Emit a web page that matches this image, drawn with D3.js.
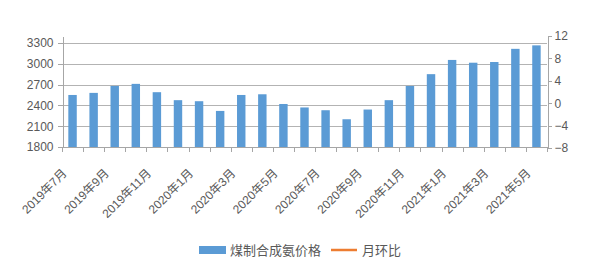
<!DOCTYPE html>
<html lang="zh">
<head>
<meta charset="utf-8">
<script src="https://d3js.org/d3.v7.min.js"></script>
<style>
body { margin: 0; background: #fff; }
text { font-family: "Liberation Sans", "Noto Sans CJK SC", sans-serif; fill: #595959; }
.grid line { stroke: #b3b3b3; stroke-width: 1; }
.axis path, .axis line { stroke: #a6a6a6; fill: none; shape-rendering: crispEdges; }
</style>
</head>
<body>
<div id="chart"></div>
<script>
// months on the category axis
var months = ["2019年7月","2019年8月","2019年9月","2019年10月","2019年11月","2019年12月",
  "2020年1月","2020年2月","2020年3月","2020年4月","2020年5月","2020年6月",
  "2020年7月","2020年8月","2020年9月","2020年10月","2020年11月","2020年12月",
  "2021年1月","2021年2月","2021年3月","2021年4月","2021年5月"];

// 煤制合成氨价格 (left axis)
var prices = [2550, 2580, 2680, 2710, 2590, 2475, 2460, 2320, 2550, 2560, 2420,
  2370, 2330, 2200, 2340, 2475, 2680, 2850, 3055, 3015, 3025, 3215, 3265];

// 月环比 (right axis) - no points shown in the picture
var momChange = [];

var leftTicks = [1800, 2100, 2400, 2700, 3000, 3300];
var rightTicks = [-8, -4, 0, 4, 8, 12];

var width = 597, height = 270;
var x0 = 62, x1 = 547, yBottom = 147, yTop = 36;

var svg = d3.select("#chart").append("svg")
  .attr("width", width)
  .attr("height", height);

var x = d3.scaleBand().domain(months).range([x0, x1]).paddingInner(0.6).paddingOuter(0.3);
var xEdge = d3.scaleLinear().domain([0, months.length]).range([x0, x1]);
var yL = d3.scaleLinear().domain([1800, 3400]).range([yBottom, yTop]);
var yR = d3.scaleLinear().domain([-8, 12]).range([yBottom + 1, yTop]);

// gridlines
svg.append("g").attr("class", "grid")
  .selectAll("line")
  .data(leftTicks.slice(1))
  .enter().append("line")
  .attr("x1", x0).attr("x2", x1)
  .attr("y1", function(d) { return Math.round(yL(d)) + 0.5; })
  .attr("y2", function(d) { return Math.round(yL(d)) + 0.5; });

// bars
svg.append("g").selectAll("rect")
  .data(prices)
  .enter().append("rect")
  .attr("x", function(d, i) { return x(months[i]); })
  .attr("width", x.bandwidth())
  .attr("y", function(d) { return yL(d); })
  .attr("height", function(d) { return yBottom - yL(d); })
  .attr("fill", "#5b9bd5");

// month on month line (empty)
svg.append("path")
  .datum(momChange)
  .attr("fill", "none")
  .attr("stroke", "#ed7d31")
  .attr("stroke-width", 2)
  .attr("d", d3.line()
    .x(function(d, i) { return x(months[i]) + x.bandwidth() / 2; })
    .y(function(d) { return yR(d); }));

// left axis
var left = svg.append("g").attr("class", "axis")
  .attr("transform", "translate(" + (x0 + 0.5) + ",0)")
  .call(d3.axisLeft(yL).tickValues(leftTicks).tickFormat(d3.format("d"))
    .tickSize(5).tickSizeOuter(0).tickPadding(4));
left.selectAll("text").style("font-size", "12px");

// right axis
var right = svg.append("g").attr("class", "axis")
  .attr("transform", "translate(" + (x1 + 0.5) + ",0)")
  .call(d3.axisRight(yR).tickValues(rightTicks).tickFormat(d3.format("d"))
    .tickSize(4).tickSizeOuter(0).tickPadding(3));
right.selectAll("text").style("font-size", "12px");

// bottom axis line and ticks at category edges
var bottom = svg.append("g").attr("class", "axis");
bottom.append("line")
  .attr("x1", x0).attr("x2", x1)
  .attr("y1", yBottom + 0.5).attr("y2", yBottom + 0.5);
bottom.selectAll(".edge")
  .data(d3.range(months.length + 1))
  .enter().append("line")
  .attr("class", "edge")
  .attr("x1", function(d) { return Math.round(xEdge(d)) + 0.5; })
  .attr("x2", function(d) { return Math.round(xEdge(d)) + 0.5; })
  .attr("y1", yBottom).attr("y2", yBottom + 5);

// every other month label, rotated
svg.append("g").selectAll("text")
  .data(months.filter(function(d, i) { return i % 2 === 0; }))
  .enter().append("text")
  .attr("transform", function(d) {
    return "translate(" + (x(d) + x.bandwidth() / 2 - 5) + "," + (yBottom + 27) + ") rotate(-45)";
  })
  .attr("text-anchor", "end")
  .style("font-size", "12px")
  .text(function(d) { return d; });

// legend
var legend = svg.append("g").attr("transform", "translate(199,250)");
legend.append("rect").attr("x", 0).attr("y", -4).attr("width", 27).attr("height", 8).attr("fill", "#5b9bd5");
legend.append("text").attr("x", 31).attr("y", 5).style("font-size", "13px").text("煤制合成氨价格");
legend.append("line").attr("x1", 132).attr("x2", 158).attr("y1", 0).attr("y2", 0)
  .attr("stroke", "#ed7d31").attr("stroke-width", 2.5);
legend.append("text").attr("x", 163).attr("y", 5).style("font-size", "13px").text("月环比");
</script>
</body>
</html>
